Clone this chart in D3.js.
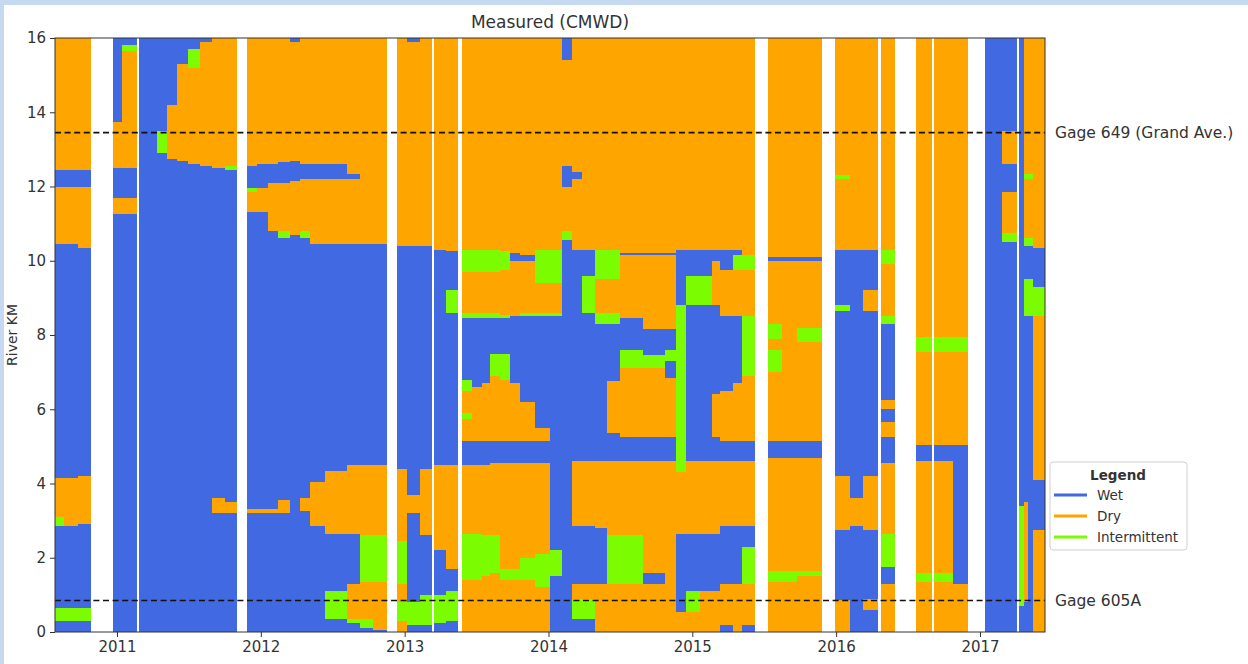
<!DOCTYPE html>
<html>
<head>
<meta charset="utf-8">
<script src="https://cdn.jsdelivr.net/npm/d3@7"></script>
<style>
  html, body { margin: 0; padding: 0; background: #fff; }
  svg { display: block; font-family: "DejaVu Sans", "Liberation Sans", sans-serif; }
</style>
</head>
<body>
<svg id="chart" width="1248" height="664"></svg>
<script>
// ---- data -------------------------------------------------------------
const chartTitle = "Measured (CMWD)";
const yLabel = "River KM";
const stateCodes = ["W", "D", "I"];
const stateNames = ["Wet", "Dry", "Intermittent"];
const stateColors = ["#4169e1", "#ffa500", "#7cfc00"];
const yearTicks = [2011, 2012, 2013, 2014, 2015, 2016, 2017];
const kmTicks = [0, 2, 4, 6, 8, 10, 12, 14, 16];
const gageNames = ["Gage 649 (Grand Ave.)", "Gage 605A"];
const gageKm = [13.45, 0.85];

// survey period edges (decimal years); period i spans colEdges[i]..colEdges[i+1]
const colEdges = [
  2010.569, 2010.632, 2010.729, 2010.819, 2010.972, 2011.035, 2011.139, 2011.153,
  2011.278, 2011.348, 2011.417, 2011.494, 2011.577, 2011.661, 2011.751, 2011.834,
  2011.904, 2011.973, 2012.050, 2012.119, 2012.203, 2012.272, 2012.342, 2012.446,
  2012.599, 2012.690, 2012.780, 2012.877, 2012.947, 2013.016, 2013.107, 2013.190,
  2013.204, 2013.287, 2013.371, 2013.399, 2013.468, 2013.538, 2013.593, 2013.663,
  2013.732, 2013.802, 2013.906, 2014.011, 2014.094, 2014.163, 2014.233, 2014.323,
  2014.407, 2014.497, 2014.657, 2014.810, 2014.887, 2014.956, 2015.053, 2015.137,
  2015.192, 2015.283, 2015.345, 2015.436, 2015.526, 2015.624, 2015.728, 2015.902,
  2015.992, 2016.096, 2016.187, 2016.291, 2016.312, 2016.409, 2016.555, 2016.666,
  2016.680, 2016.812, 2016.917, 2017.035, 2017.153, 2017.257, 2017.271, 2017.306,
  2017.334, 2017.369, 2017.452
];

// river condition along the reach for each period, listed upstream from km 0:
// each token is a state code followed by the km where that state ends ("" = no survey)
const colProfiles = [
  "W.3 I.65 W2.85 I3.1 D4.15 W10.45 D12 W12.45 D16",
  "W.3 I.65 W2.85 D4.15 W10.45 D12 W12.45 D16",
  "W.3 I.65 W2.9 D4.2 W10.35 D12 W12.45 D16",
  "",
  "W11.25 D11.7 W12.5 D13.75 W16",
  "W11.25 D11.7 W12.5 D15.65 I15.8 W16",
  "",
  "W16",
  "W12.9 I13.5 W16",
  "W12.75 D14.2 W16",
  "W12.7 D15.3 W16",
  "W12.6 D15.2 I15.7 W16",
  "W12.55 D15.9 W16",
  "W3.2 D3.6 W12.5 D16",
  "W3.2 D3.5 W12.45 I12.55 D16",
  "",
  "W3.2 D3.3 W11.3 D11.85 I11.97 W12.55 D16",
  "W3.2 D3.3 W11.3 D11.97 W12.6 D16",
  "W3.2 D3.3 W10.8 D12.1 W12.6 D16",
  "W3.2 D3.55 W10.6 I10.8 D12.1 W12.65 D16",
  "W10.7 D12.15 W12.7 D15.9 W16",
  "W3.25 D3.6 W10.6 I10.8 D12.2 W12.6 D16",
  "W2.85 D4.05 W10.45 D12.2 W12.6 D16",
  "W.35 I1.1 W2.65 D4.35 W10.45 D12.2 W12.6 D16",
  "W.25 I.35 D1.3 W2.65 D4.5 W10.45 D12.2 W12.35 D16",
  "W.1 I.35 D1.35 I2.6 D4.5 W10.45 D16",
  "W.05 D1.35 I2.6 D4.5 W10.45 D16",
  "",
  "D.3 I.8 D1.3 I2.45 D4.4 W10.4 D16",
  "W.2 I.8 W3.2 D3.7 W10.4 D15.9 W16",
  "W.2 I1.0 W2.6 D4.4 W10.4 D16",
  "",
  "W.25 I1.0 W2.2 D4.5 W10.3 D16",
  "W.3 I1.1 W1.7 D4.5 W8.6 I9.2 W10.25 D16",
  "",
  "D1.4 I2.65 D4.5 W5.15 D5.75 I5.9 D6.5 I6.8 W8.45 I8.6 D9.7 I10.3 D16",
  "D1.4 I2.65 D4.5 W5.15 D6.6 W8.45 I8.6 D9.7 I10.3 D16",
  "D1.5 I2.6 D4.5 W5.15 D6.7 W8.45 I8.6 D9.7 I10.3 D16",
  "D1.6 I2.6 D4.55 W5.15 D6.9 I7.5 W8.45 I8.6 D9.7 I10.3 D16",
  "D1.4 I1.7 D4.55 W5.15 D6.8 I7.5 W8.45 I8.55 D9.75 I10.25 D16",
  "D1.4 I1.7 D4.55 W5.15 D6.7 W8.5 D10.0 W10.2 D16",
  "D1.4 I2.0 D4.55 W5.15 D6.2 W8.5 I8.6 D10.0 W10.15 D16",
  "D1.2 I2.1 D4.55 W5.15 D5.5 W8.5 I8.6 D9.4 I10.3 D16",
  "W1.5 I2.2 W8.5 I8.6 D9.4 I10.3 D16",
  "W10.55 I10.8 D12.0 W12.55 D15.4 W16",
  "W.35 I.9 D1.3 W2.85 D4.6 W10.3 D12.2 W12.4 D16",
  "W.35 I.9 D1.3 W2.85 D4.6 W8.6 I9.6 W10.3 D16",
  "D1.3 W2.8 D4.6 W8.3 I8.6 D9.5 I10.3 D16",
  "D1.3 I2.6 D4.6 W5.35 D6.75 W8.3 I8.6 D9.5 I10.3 D16",
  "D1.3 I2.6 D4.6 W5.25 D7.1 I7.6 W8.45 D10.15 W10.2 D16",
  "D1.3 W1.6 D4.6 W5.25 D7.1 I7.45 W8.15 D10.15 W10.2 D16",
  "D4.6 W5.25 D6.85 W7.3 I7.6 W8.15 D10.15 W10.2 D16",
  "D.55 W2.65 D4.3 I8.8 W10.3 D16",
  "D.55 I1.1 W2.65 D4.6 W8.8 I9.6 W10.3 D16",
  "D1.1 W2.65 D4.6 W8.8 I9.6 W10.3 D16",
  "D1.1 W2.65 D4.6 W5.25 D6.4 W8.8 D10.0 W10.3 D16",
  "W.2 D1.3 W2.85 D4.6 W5.15 D6.5 W8.5 D9.75 W10.3 D16",
  "D1.3 W2.85 D4.6 W5.15 D6.7 W8.5 D9.75 I10.15 W10.3 D16",
  "W.2 D1.3 I2.3 W2.85 D4.6 W5.15 D6.9 I8.5 D9.75 I10.15 D16",
  "",
  "D1.35 I1.65 D4.7 W5.15 D7.0 I7.6 D7.9 I8.3 D10.0 W10.1 D16",
  "D1.35 I1.65 D4.7 W5.15 D10.0 W10.1 D16",
  "D1.5 I1.65 D4.7 W5.15 D7.8 I8.2 D10.0 W10.1 D16",
  "",
  "D.85 W2.75 D4.2 W8.65 I8.8 W10.3 D12.2 I12.3 D16",
  "W2.85 D3.6 W10.3 D16",
  "W.6 D.9 W2.75 D4.2 W8.65 D9.2 W10.3 D16",
  "",
  "D1.3 W1.75 I2.65 D4.55 W5.25 D5.65 W6.0 D6.25 W8.3 I8.5 D9.9 I10.3 D16",
  "",
  "D1.35 I1.6 D4.6 W5.05 D7.55 I7.95 D16",
  "",
  "D1.35 I1.6 D4.6 W5.05 D7.55 I7.95 D16",
  "D1.3 W5.05 D7.55 I7.95 D16",
  "",
  "W16",
  "W10.5 I10.75 D11.85 W12.6 D13.5 W16",
  "",
  "W.7 I3.4 W16",
  "W.8 D3.5 W8.5 I9.5 W10.4 I10.6 D12.2 I12.35 D16",
  "W8.5 I9.5 W10.4 I10.6 D12.2 I12.35 D16",
  "D2.75 W4.1 D8.5 I9.3 W10.35 D16"
];

// ---- layout -----------------------------------------------------------
const W = 1248, H = 664;
const plot = { left: 55, right: 1045, top: 38, bottom: 632 };

const svg = d3.select("#chart");

// page frame
svg.append("rect").attr("width", W).attr("height", H).attr("fill", "#c6d9f1");
svg.append("rect").attr("x", 4).attr("y", 5).attr("width", W - 4).attr("height", H - 5).attr("fill", "#fff");

const x = d3.scaleLinear()
  .domain([colEdges[0], colEdges[colEdges.length - 1]])
  .range([plot.left, plot.right]);
const y = d3.scaleLinear().domain([0, 16]).range([plot.bottom, plot.top]);
const color = d3.scaleOrdinal().domain(stateCodes).range(stateColors);

// expand profiles into cells
const cells = [];
colProfiles.forEach((prof, i) => {
  if (!prof) return;
  let from = 0;
  prof.split(" ").forEach(tok => {
    const to = +tok.slice(1);
    cells.push({ t0: colEdges[i], t1: colEdges[i + 1], k0: from, k1: to, s: tok[0] });
    from = to;
  });
});

svg.append("g")
  .selectAll("rect")
  .data(cells)
  .join("rect")
  .attr("x", d => x(d.t0))
  .attr("width", d => x(d.t1) - x(d.t0))
  .attr("y", d => y(d.k1))
  .attr("height", d => y(d.k0) - y(d.k1))
  .attr("fill", d => color(d.s))
  .attr("shape-rendering", "crispEdges");

// gage reference lines
svg.append("g")
  .selectAll("line")
  .data(gageKm)
  .join("line")
  .attr("x1", plot.left).attr("x2", plot.right)
  .attr("y1", d => y(d)).attr("y2", d => y(d))
  .attr("stroke", "#111").attr("stroke-width", 1.6)
  .attr("stroke-dasharray", "6,3.6");

svg.append("g")
  .selectAll("text")
  .data(gageNames)
  .join("text")
  .attr("x", plot.right + 10)
  .attr("y", (d, i) => y(gageKm[i]))
  .attr("dy", "0.35em")
  .attr("font-size", 15.5)
  .attr("fill", "#333")
  .text(d => d);

// plot frame
svg.append("rect")
  .attr("x", plot.left).attr("y", plot.top)
  .attr("width", plot.right - plot.left).attr("height", plot.bottom - plot.top)
  .attr("fill", "none").attr("stroke", "#333").attr("stroke-width", 1);

// axes
const xAxis = svg.append("g")
  .attr("transform", `translate(0,${plot.bottom})`)
  .call(d3.axisBottom(x).tickValues(yearTicks).tickFormat(d3.format("d")).tickSize(5).tickPadding(4));
const yAxis = svg.append("g")
  .attr("transform", `translate(${plot.left},0)`)
  .call(d3.axisLeft(y).tickValues(kmTicks).tickSize(5).tickPadding(4));
[xAxis, yAxis].forEach(g => {
  g.select(".domain").remove();
  g.selectAll("line").attr("stroke", "#333");
  g.selectAll("text").attr("font-size", 15).attr("fill", "#333")
    .attr("font-family", "\"DejaVu Sans\", sans-serif");
});

// title and axis label
svg.append("text")
  .attr("x", (plot.left + plot.right) / 2).attr("y", 28)
  .attr("text-anchor", "middle").attr("font-size", 17).attr("fill", "#333")
  .text(chartTitle);
svg.append("text")
  .attr("transform", `translate(17,${(plot.top + plot.bottom) / 2}) rotate(-90)`)
  .attr("text-anchor", "middle").attr("font-size", 14).attr("fill", "#333")
  .text(yLabel);

// legend
const lg = svg.append("g").attr("transform", "translate(1050,462)");
lg.append("rect")
  .attr("width", 137).attr("height", 88).attr("rx", 3)
  .attr("fill", "#fff").attr("fill-opacity", 0.85)
  .attr("stroke", "#d0d0d0");
lg.append("text")
  .attr("x", 68).attr("y", 18).attr("text-anchor", "middle")
  .attr("font-size", 13.5).attr("font-weight", "bold").attr("fill", "#333")
  .text("Legend");
const items = lg.selectAll("g.item")
  .data(stateNames)
  .join("g")
  .attr("class", "item")
  .attr("transform", (d, i) => `translate(0,${33 + i * 21})`);
items.append("line")
  .attr("x1", 4).attr("x2", 37)
  .attr("stroke", (d, i) => stateColors[i]).attr("stroke-width", 3);
items.append("text")
  .attr("x", 47).attr("dy", "0.35em")
  .attr("font-size", 13.5).attr("fill", "#333")
  .text(d => d);
</script>
</body>
</html>
